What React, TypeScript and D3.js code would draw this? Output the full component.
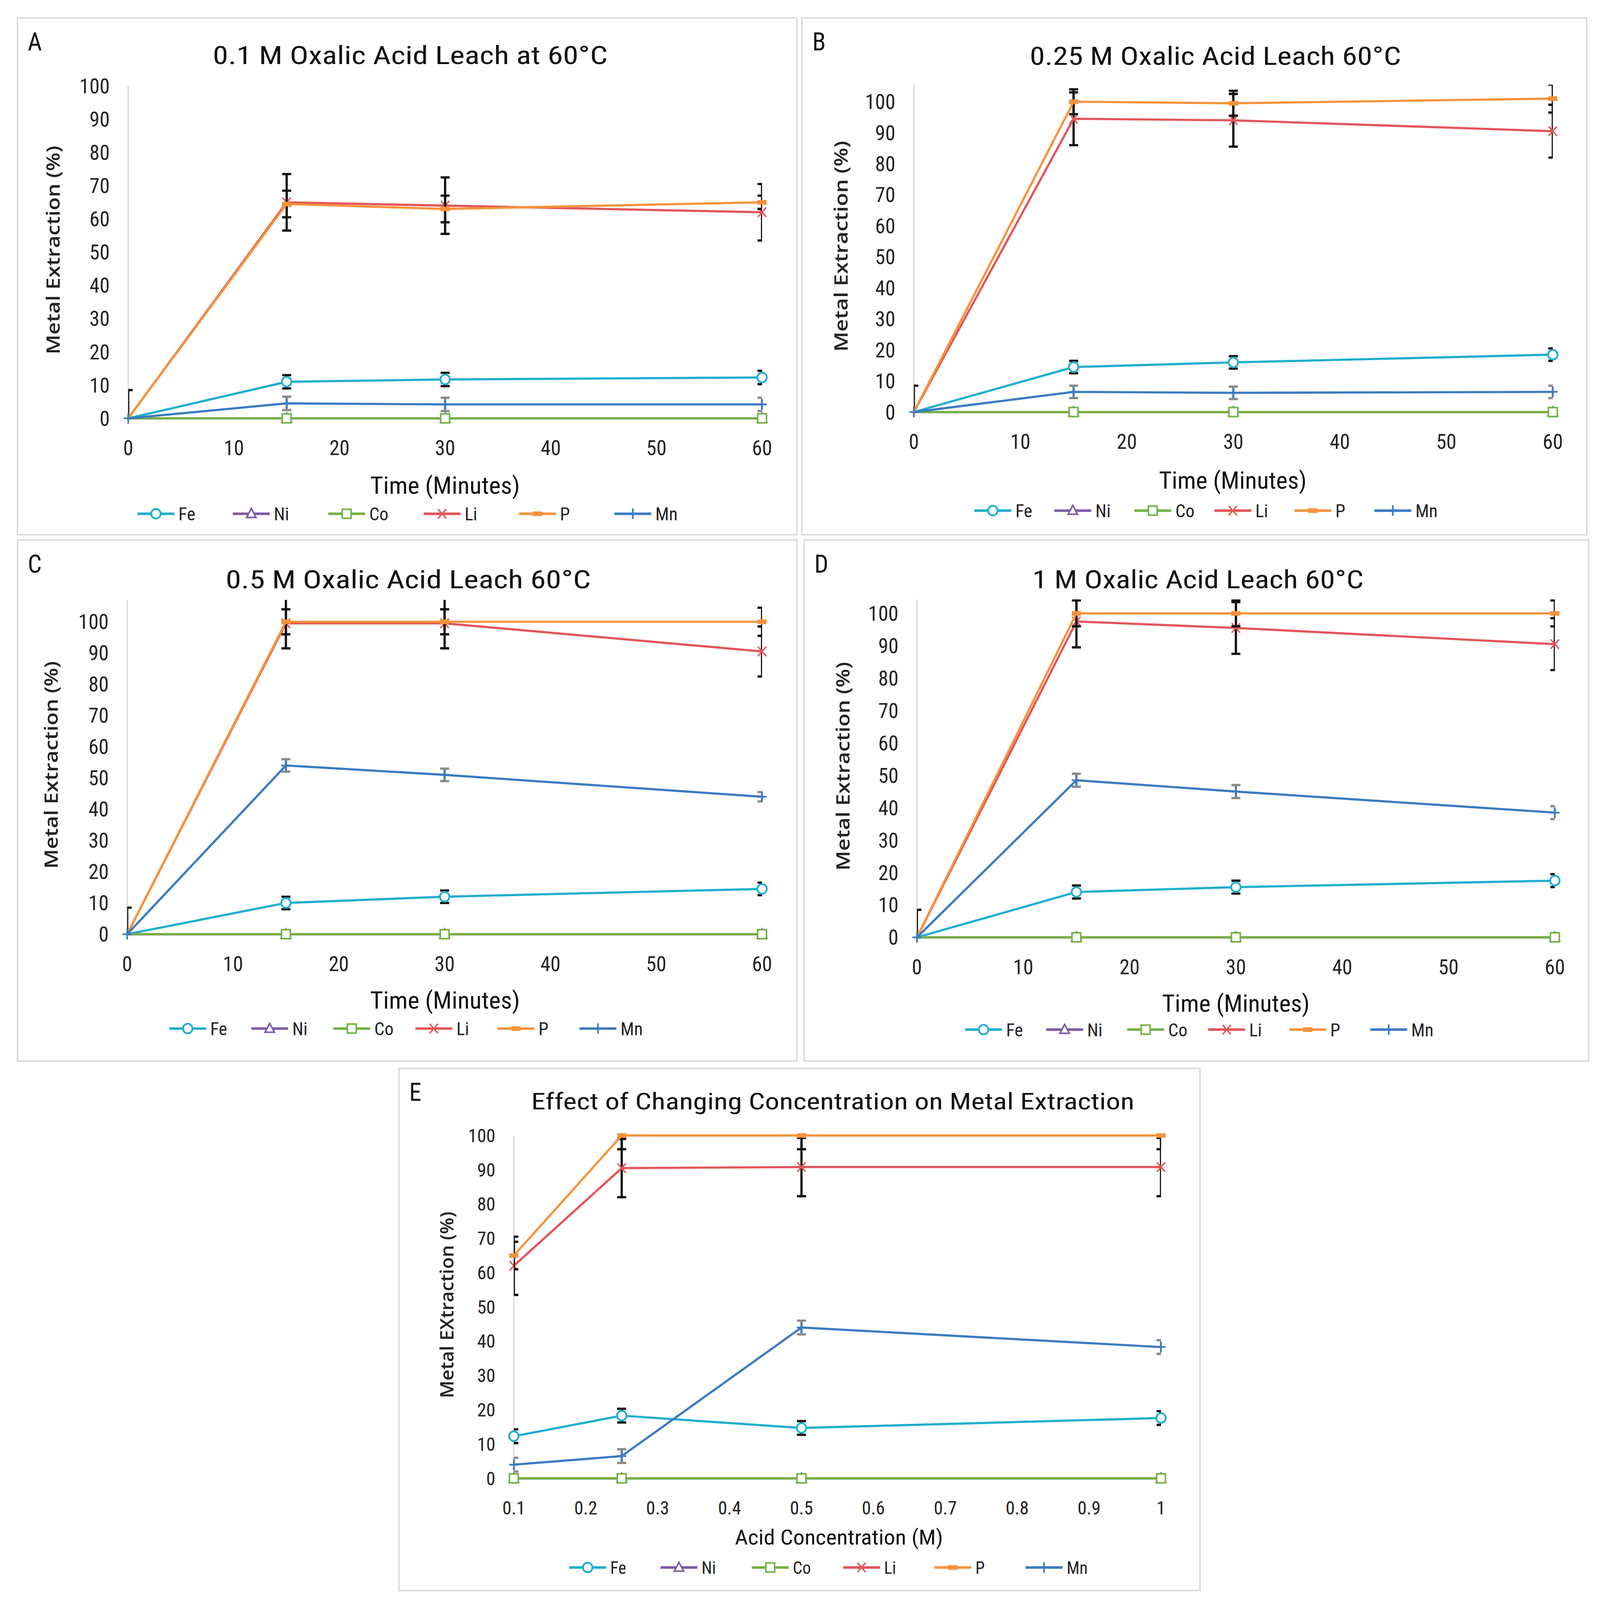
import React from "react";
import * as d3 from "d3";

// x values
const timeMin = [0, 15, 30, 60];
const acidConc = [0.1, 0.25, 0.5, 1];
const timeTicks = [0, 10, 20, 30, 40, 50, 60];
const concTicks = [0.1, 0.2, 0.3, 0.4, 0.5, 0.6, 0.7, 0.8, 0.9, 1];
const yTicks = [0, 10, 20, 30, 40, 50, 60, 70, 80, 90, 100];
const metals = ["Fe", "Ni", "Co", "Li", "P", "Mn"];

// A - 0.1 M
const feA = [0, 11, 11.7, 12.3];
const feErrA = [0, 2, 2, 2];
const niA = [0, 0, 0, 0];
const coA = [0, 0, 0, 0];
const liA = [0, 65, 64, 62];
const liErrA = [0, 8.5, 8.5, 8.5];
const pA = [0, 64.5, 63, 65];
const pErrA = [8.5, 4, 4, 2];
const mnA = [0, 4.5, 4.2, 4.2];
const mnErrA = [0, 2, 2, 2];

// B - 0.25 M
const feB = [0, 14.5, 16, 18.5];
const feErrB = [0, 2, 2, 2];
const niB = [0, 0, 0, 0];
const coB = [0, 0, 0, 0];
const liB = [0, 94.5, 94, 90.5];
const liErrB = [0, 8.5, 8.5, 8.5];
const pB = [0, 100, 99.5, 101];
const pErrB = [8.5, 4, 4, 4.5];
const mnB = [0, 6.5, 6.2, 6.5];
const mnErrB = [0, 2, 2, 2];

// C - 0.5 M
const feC = [0, 10, 12, 14.5];
const feErrC = [0, 2, 2, 2];
const niC = [0, 0, 0, 0];
const coC = [0, 0, 0, 0];
const liC = [0, 99.5, 99.5, 90.5];
const liErrC = [0, 8, 8, 8];
const pC = [0, 100, 100, 100];
const pErrC = [8.5, 4, 4, 4.5];
const mnC = [0, 54, 51, 44];
const mnErrC = [0, 2, 2, 1.5];

// D - 1 M
const feD = [0, 14, 15.5, 17.5];
const feErrD = [0, 2, 2, 2];
const niD = [0, 0, 0, 0];
const coD = [0, 0, 0, 0];
const liD = [0, 97.5, 95.5, 90.5];
const liErrD = [0, 8, 8, 8];
const pD = [0, 100, 100, 100];
const pErrD = [8.5, 4, 4, 4];
const mnD = [0, 48.5, 45, 38.5];
const mnErrD = [0, 2, 2, 2];

// E - effect of concentration (60 min)
const feE = [12.3, 18.3, 14.7, 17.6];
const feErrE = [2, 2, 2, 2];
const niE = [0, 0, 0, 0];
const coE = [0, 0, 0, 0];
const liE = [62, 90.5, 90.8, 90.8];
const liErrE = [8.5, 8.5, 8.5, 8.5];
const pE = [65, 100, 100, 100];
const pErrE = [4, 4, 4, 4];
const mnE = [4, 6.5, 44, 38.3];
const mnErrE = [2, 2, 2, 2];

const zeros = [0, 0, 0, 0];

const colors: any = {Fe: "#1FAFCF", Ni: "#7E5AA6", Co: "#74B044", Li: "#E2555A", P: "#F7923A", Mn: "#3B7BC2"};
const errColor: any = {Fe: "#111", Ni: "#111", Co: "#111", Li: "#111", P: "#111", Mn: "#8a8a8a"};

const W = 1560
const H = 1526
const tickFont = "'Liberation Sans Narrow', 'Roboto Condensed', Roboto, 'Open Sans', sans-serif"
const yTitleFont = "'Open Sans', 'Noto Sans', sans-serif"

const build = (vals: number[][], errs: number[][]) =>
    metals.map((m, i) => ({name: m, values: vals[i], errors: errs[i]}))

const panels = [
    {
        letter: "A", title: "0.1 M Oxalic Acid Leach at 60°C", xTitle: "Time (Minutes)", yTitle: "Metal Extraction (%)",
        xs: timeMin, xTicks: timeTicks, xDomain: [0, 60],
        series: build([feA, niA, coA, liA, pA, mnA], [feErrA, zeros, zeros, liErrA, pErrA, mnErrA]),
        frame: [17, 17, 760, 493], px: [125, 743], py: [399, 82], ymax: 100,
        titleX: 400, titleY: 61, titleLen: 385, titleSize: 24,
        xTitleX: 434, xTitleY: 471, xTitleLen: 146, yTitleX: 52, yTitleLen: 199,
        legendX: 134, legendStep: 93, legendY: 490, tickSize: 20, hideFirstMarker: true,
    },
    {
        letter: "B", title: "0.25 M Oxalic Acid Leach 60°C", xTitle: "Time (Minutes)", yTitle: "Metal Extraction (%)",
        xs: timeMin, xTicks: timeTicks, xDomain: [0, 60],
        series: build([feB, niB, coB, liB, pB, mnB], [feErrB, zeros, zeros, liErrB, pErrB, mnErrB]),
        frame: [782, 17, 765, 493], px: [891, 1514], py: [393, 97], ymax: 105.5,
        titleX: 1185, titleY: 62, titleLen: 362, titleSize: 24,
        xTitleX: 1202, xTitleY: 466, xTitleLen: 144, yTitleX: 820, yTitleLen: 201,
        legendX: 950, legendStep: 78, legendY: 487, tickSize: 20, hideFirstMarker: true,
    },
    {
        letter: "C", title: "0.5 M Oxalic Acid Leach 60°C", xTitle: "Time (Minutes)", yTitle: "Metal Extraction (%)",
        xs: timeMin, xTicks: timeTicks, xDomain: [0, 60],
        series: build([feC, niC, coC, liC, pC, mnC], [feErrC, zeros, zeros, liErrC, pErrC, mnErrC]),
        frame: [17, 515, 760, 497], px: [124, 743], py: [891, 593], ymax: 107,
        titleX: 398, titleY: 561, titleLen: 356, titleSize: 24,
        xTitleX: 434, xTitleY: 962, xTitleLen: 146, yTitleX: 50, yTitleLen: 198,
        legendX: 165, legendStep: 80, legendY: 981, tickSize: 20, hideFirstMarker: true,
    },
    {
        letter: "D", title: "1 M Oxalic Acid Leach 60°C", xTitle: "Time (Minutes)", yTitle: "Metal Extraction (%)",
        xs: timeMin, xTicks: timeTicks, xDomain: [0, 60],
        series: build([feD, niD, coD, liD, pD, mnD], [feErrD, zeros, zeros, liErrD, pErrD, mnErrD]),
        frame: [784, 515, 765, 497], px: [894, 1516], py: [894, 585], ymax: 104.3,
        titleX: 1168, titleY: 561, titleLen: 323, titleSize: 24,
        xTitleX: 1205, xTitleY: 965, xTitleLen: 144, yTitleX: 822, yTitleLen: 199,
        legendX: 941, legendStep: 79, legendY: 982, tickSize: 20, hideFirstMarker: true,
    },
    {
        letter: "E", title: "Effect of Changing Concentration on Metal Extraction", xTitle: "Acid Concentration (M)",
        yTitle: "Metal EXtraction (%)",
        xs: acidConc, xTicks: concTicks, xDomain: [0.1, 1],
        series: build([feE, niE, coE, liE, pE, mnE], [feErrE, zeros, zeros, liErrE, pErrE, mnErrE]),
        frame: [389, 1019, 781, 498], px: [501, 1132], py: [1410, 1083], ymax: 100,
        titleX: 812, titleY: 1058, titleLen: 588, titleSize: 22,
        xTitleX: 818, xTitleY: 1473, xTitleLen: 203, yTitleX: 436, yTitleLen: 178,
        legendX: 555, legendStep: 89, legendY: 1495, tickSize: 18, hideFirstMarker: false,
    },
]

const Marker = ({name, x, y}: { name: string, x: number, y: number }) => {
    const c = colors[name]
    if (name === "Fe") return <circle cx={x} cy={y} r={4.6} fill="#fff" stroke={c} strokeWidth={1.7}/>
    if (name === "Ni") return <path d={`M${x},${y - 5}L${x + 4.6},${y + 3.5}L${x - 4.6},${y + 3.5}Z`} fill="#fff"
                                    stroke={c} strokeWidth={1.5}/>
    if (name === "Co") return <rect x={x - 4.3} y={y - 4.3} width={8.6} height={8.6} fill="#fff" stroke={c}
                                    strokeWidth={1.5}/>
    if (name === "Li") return <path d={`M${x - 4},${y - 4.5}L${x + 4},${y + 4.5}M${x + 4},${y - 4.5}L${x - 4},${y + 4.5}`}
                                    stroke={c} strokeWidth={1.4}/>
    if (name === "P") return <rect x={x - 4.5} y={y - 2.2} width={9} height={4.4} fill={c}/>
    return <path d={`M${x - 4.5},${y}L${x + 4.5},${y}M${x},${y - 5}L${x},${y + 5}`} stroke={c} strokeWidth={1.6}/>
}

const Panel = ({p, idx}: { p: any, idx: number }) => {
    const [fx, fy, fw, fh] = p.frame
    const xScale = d3.scaleLinear().domain(p.xDomain).range(p.px)
    const yScale = d3.scaleLinear().domain([0, 100]).range(p.py)
    const top = yScale(p.ymax)
    const bottom = yScale(0)
    const clipId = "plotclip" + idx
    const line = d3.line<number>().x((d, i) => xScale(p.xs[i])).y(d => yScale(d))
    const cap = 4.4

    return (
        <g>
            <rect x={fx} y={fy} width={fw} height={fh} fill="#fff" stroke="#d9d9d9" strokeWidth={1.4}/>
            <text x={fx + 10} y={fy + 31} fontFamily={tickFont} fontSize={24} fill="#111">{p.letter}</text>
            <text x={p.titleX} y={p.titleY} textAnchor="middle" fontFamily={tickFont} fontSize={p.titleSize}
                  textLength={p.titleLen} lengthAdjust="spacingAndGlyphs" fill="#111">{p.title}</text>
            <defs>
                <clipPath id={clipId}>
                    <rect x={p.px[0]} y={top} width={p.px[1] - p.px[0]} height={bottom - top}/>
                </clipPath>
            </defs>
            {/* axes */}
            <line x1={p.px[0]} x2={p.px[0]} y1={top} y2={bottom} stroke="#d9d9d9" strokeWidth={1.3}/>
            <line x1={p.px[0]} x2={p.px[1]} y1={bottom} y2={bottom} stroke="#d9d9d9" strokeWidth={1.3}/>
            {yTicks.map(t => (
                <text key={"y" + t} x={p.px[0] - 18} y={yScale(t)} dy="0.35em" textAnchor="end"
                      fontFamily={tickFont} fontSize={p.tickSize} fill="#222">{t}</text>
            ))}
            {p.xTicks.map((t: number) => (
                <text key={"x" + t} x={xScale(t)} y={bottom + 28} dy="0.35em" textAnchor="middle"
                      fontFamily={tickFont} fontSize={p.tickSize} fill="#222">{String(t)}</text>
            ))}
            <text x={p.xTitleX} y={p.xTitleY} textAnchor="middle" fontFamily={tickFont}
                  fontSize={p.letter === "E" ? 20 : 23} textLength={p.xTitleLen} lengthAdjust="spacingAndGlyphs"
                  fill="#111">{p.xTitle}</text>
            <text transform={`translate(${p.yTitleX},${(top + bottom) / 2 - 2}) rotate(-90)`} textAnchor="middle"
                  dy="0.35em" fontFamily={yTitleFont} fontWeight={600} fontSize={18} fill="#222"
                  textLength={p.yTitleLen} lengthAdjust="spacingAndGlyphs">{p.yTitle}</text>
            {/* series */}
            {p.series.map((s: any) => (
                <g key={s.name}>
                    <g clipPath={`url(#${clipId})`}>
                        {s.values.map((v: number, i: number) => {
                            const e = s.errors[i]
                            if (!e) return null
                            const x = xScale(p.xs[i])
                            const y1 = yScale(v + e)
                            const y2 = yScale(v - e)
                            return (
                                <path key={i}
                                      d={`M${x},${y1}L${x},${y2}M${x - cap},${y1}L${x + cap},${y1}M${x - cap},${y2}L${x + cap},${y2}`}
                                      stroke={errColor[s.name]} strokeWidth={2.2} fill="none"/>
                            )
                        })}
                    </g>
                    <path d={line(s.values) || ""} fill="none" stroke={colors[s.name]} strokeWidth={2.1}/>
                    {s.values.map((v: number, i: number) => {
                        if (p.hideFirstMarker && i === 0 && s.name !== "Mn") return null
                        return <Marker key={i} name={s.name} x={xScale(p.xs[i])} y={yScale(v)}/>
                    })}
                </g>
            ))}
            {/* legend */}
            {metals.map((m, i) => {
                const lx = p.legendX + i * p.legendStep
                return (
                    <g key={"lg" + m}>
                        <line x1={lx} x2={lx + 36} y1={p.legendY} y2={p.legendY} stroke={colors[m]} strokeWidth={2.4}/>
                        <Marker name={m} x={lx + 18} y={p.legendY}/>
                        <text x={lx + 40} y={p.legendY} dy="0.36em" fontFamily={tickFont}
                              fontSize={p.letter === "E" ? 16.5 : 17.5} fill="#222">{m}</text>
                    </g>
                )
            })}
        </g>
    )
}

const App = () => {
    return (
        <svg viewBox={`0 0 ${W} ${H}`} preserveAspectRatio="none"
             style={{position: "fixed", left: 0, top: 0, width: "100vw", height: "100vh", background: "#fff", display: "block"}}>
            <rect x={0} y={0} width={W} height={H} fill="#fff"/>
            {panels.map((p, i) => <Panel key={p.letter} p={p} idx={i}/>)}
        </svg>
    )
}

export default App
